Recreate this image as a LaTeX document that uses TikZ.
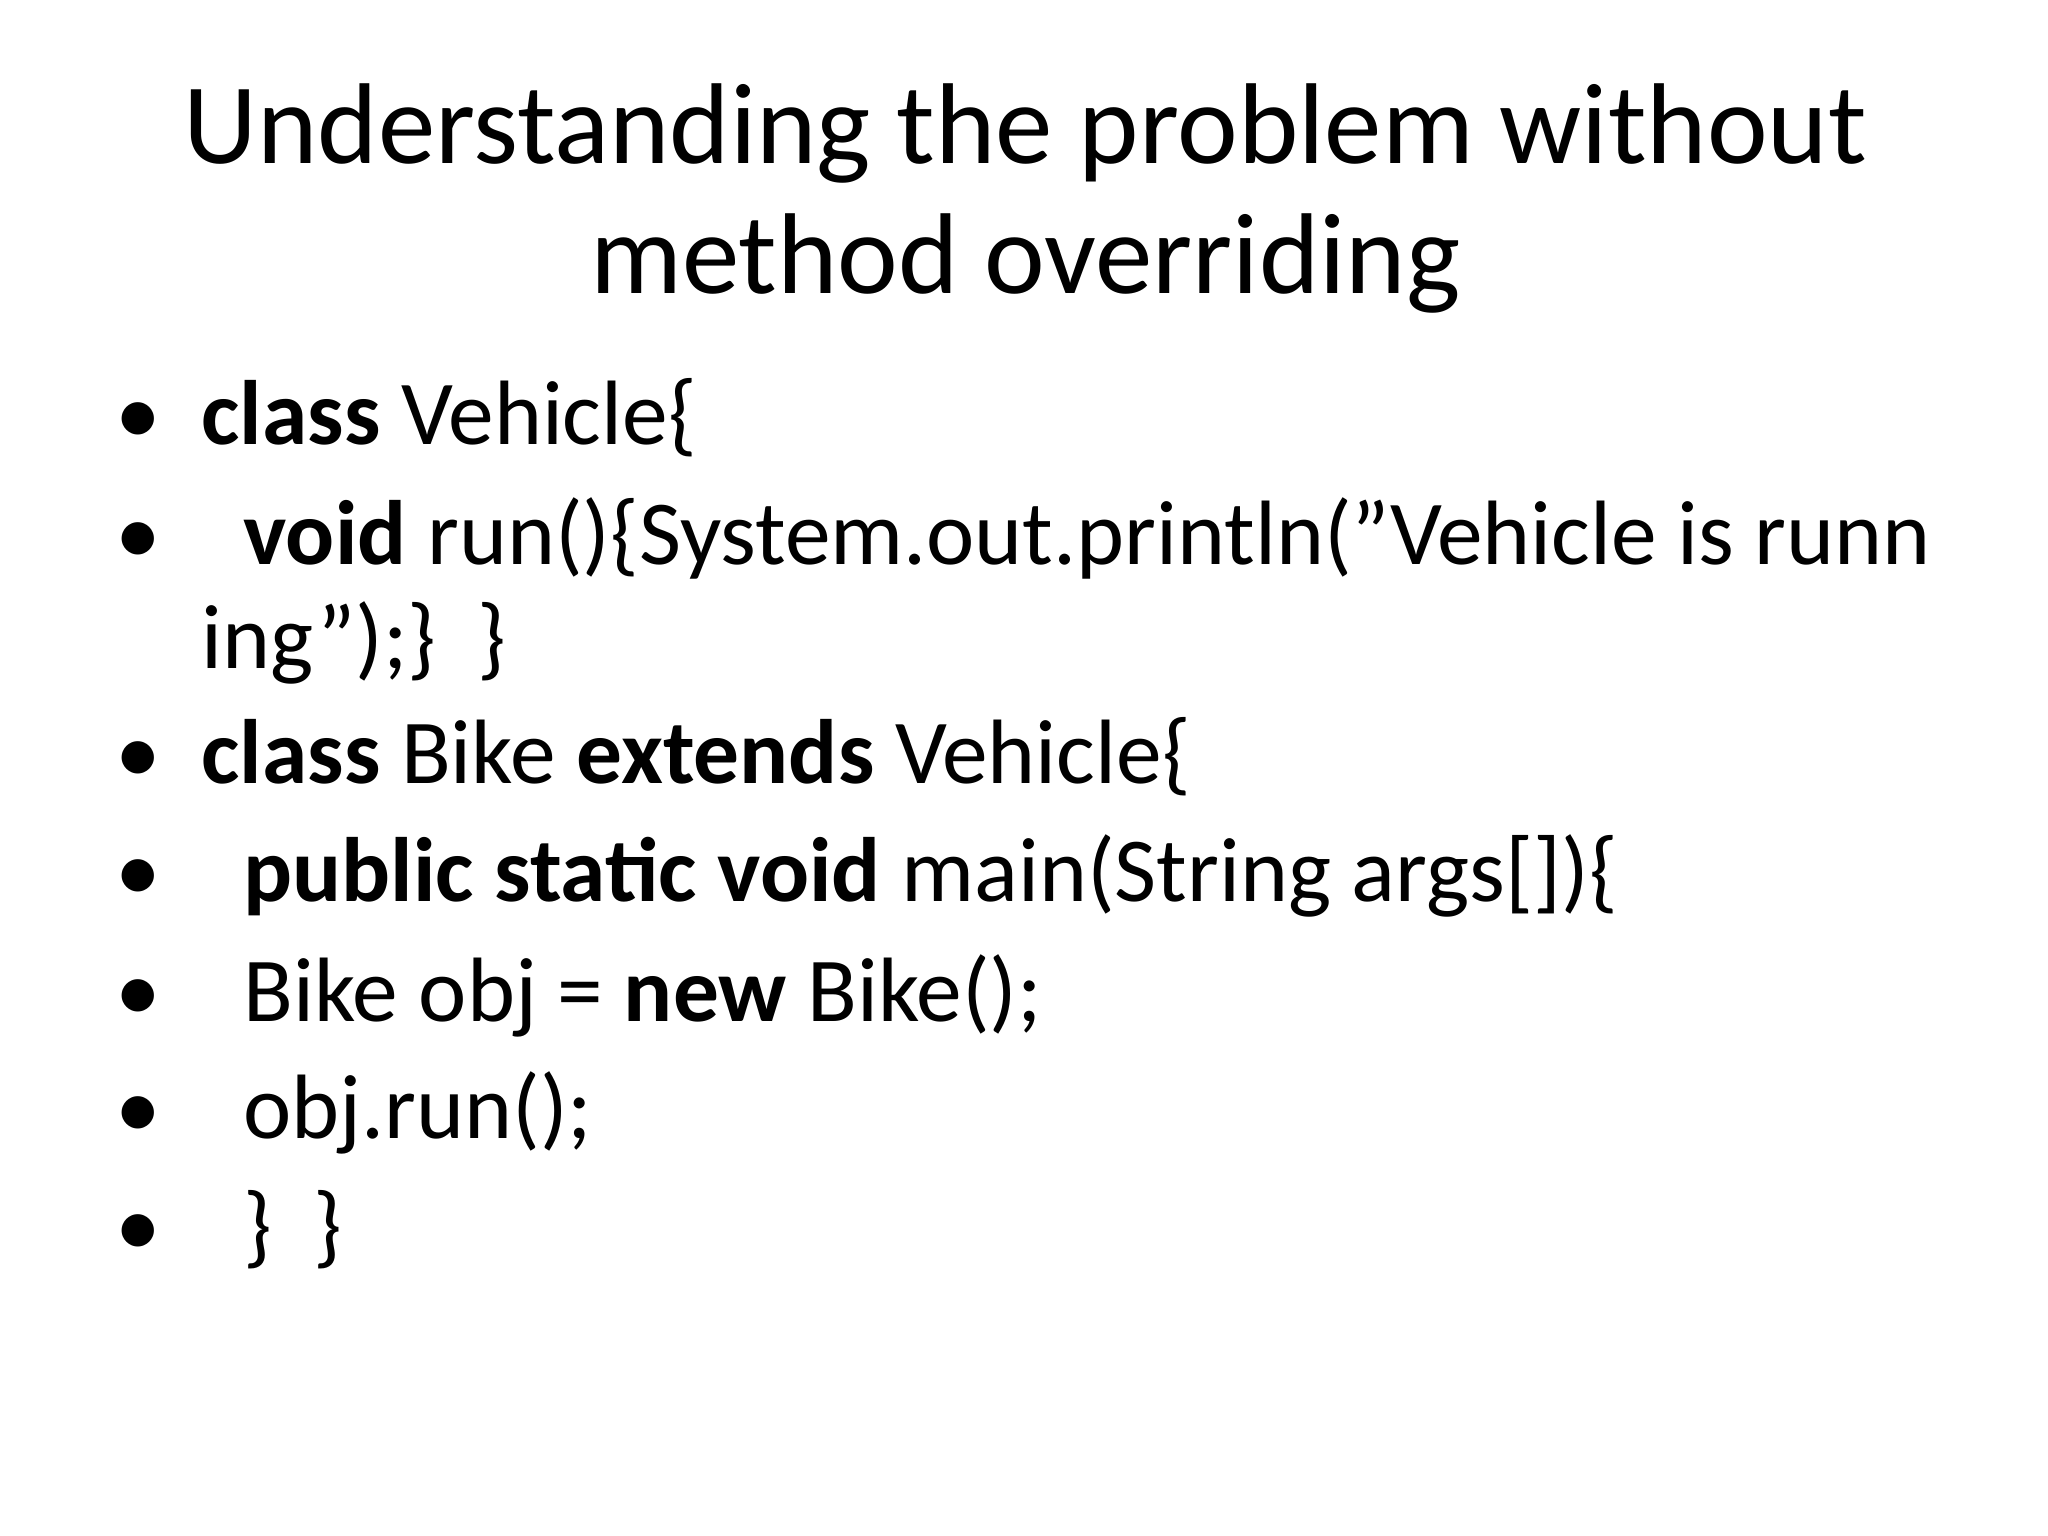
\documentclass[tikz,border=0pt]{standalone}
\usepackage{fontspec}
\setmainfont{Carlito}
\begin{document}
\begin{tikzpicture}[x=0.5pt,y=-0.5pt,
  ttl/.style={inner sep=0pt,anchor=base,font=\fontsize{44}{50}\selectfont},
  bl/.style={inner sep=0pt,anchor=base west,font=\fontsize{35}{40}\selectfont}]
\useasboundingbox (0,0) rectangle (1568,1176);
\fill[white] (0,0) rectangle (1568,1176);
\node[ttl] (t1) at (785,125) {Understanding the problem without};
\node[ttl] (t2) at (785,225) {method overriding};
\foreach \y/\n in {340/a,432/b,600/c,690/d,782/e,872/f,962/g}
  \node[bl] (b\n) at (88,\y) {•};
\node[bl] (l1) at (154,340) {\textbf{class} Vehicle\{};
\node[bl] (l2) at (186,432) {\textbf{void} run()\{System.out.println("Vehicle is runn};
\node[bl] (l2b) at (154,512) {ing");\}~~\}};
\node[bl] (l3) at (154,600) {\textbf{class} Bike \textbf{extends} Vehicle\{};
\node[bl] (l4) at (186,690) {\textbf{public static void} main(String args[])\{};
\node[bl] (l5) at (186,782) {Bike obj = \textbf{new} Bike();};
\node[bl] (l6) at (186,872) {obj.run();};
\node[bl] (l7) at (186,962) {\}~~\}};
\end{tikzpicture}
\end{document}
